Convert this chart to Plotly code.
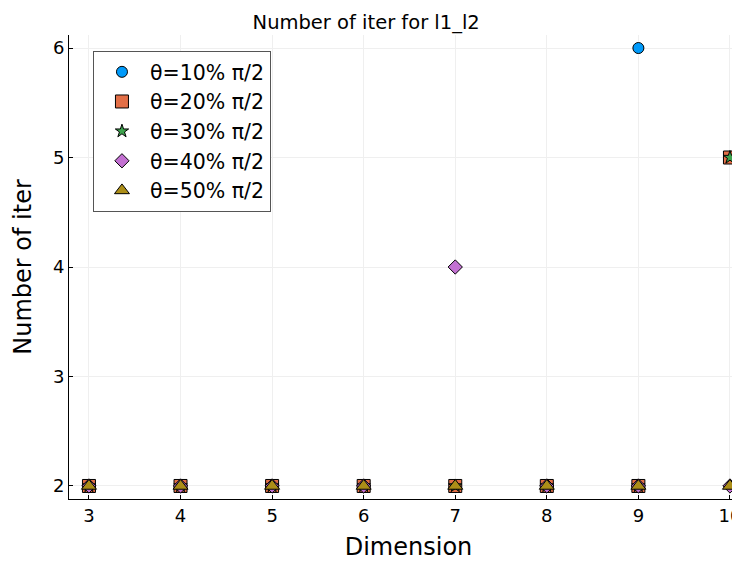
import plotly.graph_objects as go

dims = [3, 4, 5, 6, 7, 8, 9, 10]
labels = ["θ=10% π/2", "θ=20% π/2", "θ=30% π/2", "θ=40% π/2", "θ=50% π/2"]
iter_10 = [2, 2, 2, 2, 2, 2, 6, 5]
iter_20 = [2, 2, 2, 2, 2, 2, 2, 5]
iter_30 = [2, 2, 2, 2, 2, 2, 2, 5]
iter_40 = [2, 2, 2, 2, 4, 2, 2, 2]
iter_50 = [2, 2, 2, 2, 2, 2, 2, 2]
series = [iter_10, iter_20, iter_30, iter_40, iter_50]
colors = ["#009AFA", "#E36F47", "#3EA44E", "#C371D2", "#AC8E18"]
symbols = ["circle", "square", "star", "diamond", "triangle-up"]
sizes = [11, 13, 10, 11, 13]

FONT = "DejaVu Sans"
fig = go.Figure()
for lab, ys, c, s, sz in zip(labels, series, colors, symbols, sizes):
    fig.add_trace(go.Scatter(
        x=dims, y=ys, mode="markers", name=lab,
        marker=dict(color=c, symbol=s, size=sz, line=dict(color="black", width=1)),
        cliponaxis=False,
    ))

axis_common = dict(
    showline=True, linecolor="black", linewidth=1, mirror=False,
    showgrid=True, gridcolor="#efefef", gridwidth=1,
    ticks="inside", ticklen=4, tickcolor="black",
    zeroline=False, tickfont=dict(family=FONT, size=18, color="black"),
    ticklabeloverflow="allow",
)
fig.update_layout(
    width=740, height=562,
    paper_bgcolor="white", plot_bgcolor="white",
    margin=dict(l=61, r=0, t=27, b=71),
    title=dict(text="Number of iter for l1_l2", x=0.484, xanchor="center", xref="container",
               y=0.975, yanchor="middle", yref="container",
               font=dict(family=FONT, size=19.5, color="black")),
    xaxis=dict(range=[2.782, 10.197], tickvals=dims,
               title=dict(text="Dimension", font=dict(family=FONT, size=24, color="black"), standoff=13),
               **axis_common),
    yaxis=dict(range=[1.881, 6.119], tickvals=[2, 3, 4, 5, 6],
               title=dict(text="Number of iter", font=dict(family=FONT, size=24, color="black"), standoff=14),
               **axis_common),
    legend=dict(x=0.0353, y=0.9655, xanchor="left", yanchor="top", bgcolor="white",
                bordercolor="#555555", borderwidth=1, font=dict(family=FONT, size=20.5, color="black"),
                tracegroupgap=0, itemwidth=46),
    showlegend=True,
)
fig.write_html("out.html")
